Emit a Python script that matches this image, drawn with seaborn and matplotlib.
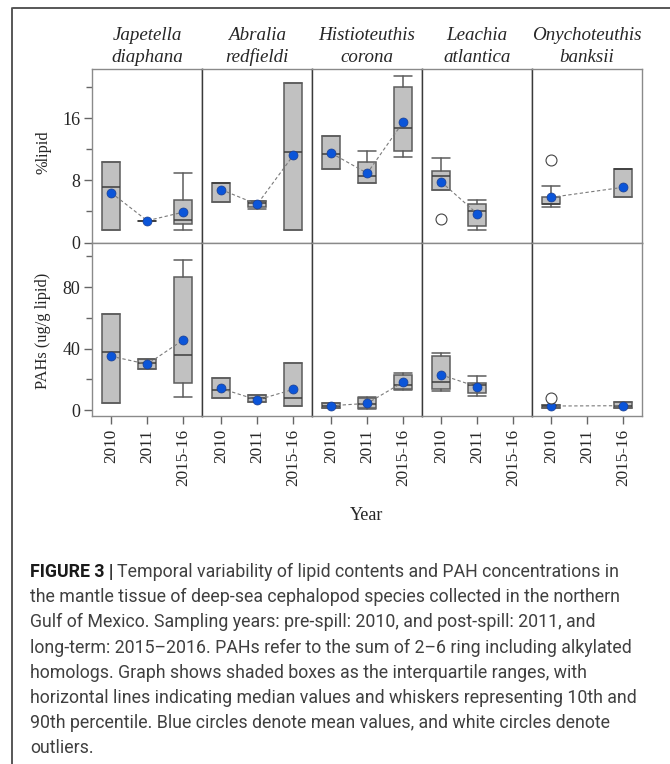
import numpy as np
import pandas as pd
import matplotlib
matplotlib.use("Agg")
import matplotlib.pyplot as plt
from matplotlib.lines import Line2D
import seaborn as sns

# ---------------------------------------------------------------- data
genus = ["Japetella", "Abralia", "Histioteuthis", "Leachia", "Onychoteuthis"]
epithet = ["diaphana", "redfieldi", "corona", "atlantica", "banksii"]
years = ["2010", "2011", "2015-16"]
nan = np.nan

# %lipid: 10th pct, Q1, median, Q3, 90th pct, mean (rows = species, cols = years)
lipid_p10 = [[1.6, 2.8, 1.6], [5.2, 4.3, 1.6], [9.4, 7.6, 11.0], [6.8, 1.6, nan], [4.6, nan, 5.9]]
lipid_q1 = [[1.6, 2.8, 2.4], [5.2, 4.5, 1.6], [9.4, 7.6, 11.7], [6.8, 2.1, nan], [4.9, nan, 5.9]]
lipid_med = [[7.1, 2.8, 2.9], [7.6, 5.1, 11.6], [11.4, 8.5, 14.7], [8.6, 4.0, nan], [5.0, nan, 9.4]]
lipid_q3 = [[10.4, 2.8, 5.5], [7.6, 5.3, 20.5], [13.7, 10.4, 20.0], [9.2, 4.9, nan], [5.9, nan, 9.4]]
lipid_p90 = [[10.4, 2.8, 8.9], [7.6, 5.3, 20.5], [13.7, 11.7, 21.4], [10.9, 5.5, nan], [7.3, nan, 9.4]]
lipid_mean = [[6.4, 2.8, 3.9], [6.8, 4.9, 11.2], [11.5, 8.9, 15.5], [7.8, 3.7, nan], [5.8, nan, 7.1]]
lipid_outlier = [[nan, nan, nan], [nan, nan, nan], [nan, nan, nan], [3.0, nan, nan], [10.6, nan, nan]]

# PAHs (ug/g lipid)
pah_p10 = [[4.3, 26.4, 8.2], [8.0, 5.2, 2.4], [1.5, 0.4, 13.0], [12.3, 9.3, nan], [1.3, nan, 1.5]]
pah_q1 = [[4.3, 26.4, 17.3], [8.0, 5.2, 2.4], [1.5, 1.5, 13.6], [13.4, 10.8, nan], [1.3, nan, 1.5]]
pah_med = [[38.0, 30.3, 36.1], [13.0, 7.6, 7.8], [2.8, 3.7, 16.2], [18.4, 16.2, nan], [2.5, nan, 2.8]]
pah_q3 = [[62.7, 32.9, 86.5], [21.0, 9.5, 30.3], [4.3, 7.6, 22.7], [35.0, 17.3, nan], [3.5, nan, 5.0]]
pah_p90 = [[62.7, 32.9, 97.7], [21.0, 9.5, 30.3], [4.3, 8.6, 23.8], [37.4, 22.3, nan], [3.5, nan, 5.0]]
pah_mean = [[35.0, 29.8, 45.6], [14.0, 6.5, 13.4], [2.8, 4.3, 18.2], [22.9, 15.1, nan], [2.6, nan, 2.8]]
pah_outlier = [[nan, nan, nan], [nan, nan, nan], [nan, nan, nan], [nan, nan, nan], [7.6, nan, nan]]

caption_lines = [
    "Temporal variability of lipid contents and PAH concentrations in",
    "the mantle tissue of deep-sea cephalopod species collected in the northern",
    "Gulf of Mexico. Sampling years: pre-spill: 2010, and post-spill: 2011, and",
    "long-term: 2015\u20132016. PAHs refer to the sum of 2\u20136 ring including alkylated",
    "homologs. Graph shows shaded boxes as the interquartile ranges, with",
    "horizontal lines indicating median values and whiskers representing 10th and",
    "90th percentile. Blue circles denote mean values, and white circles denote",
    "outliers.",
]
# typeset width (px) of caption lines 2-7
caption_widths = [602, 546, 615, 560, 603, 571]

rows = [
    dict(p10=lipid_p10, q1=lipid_q1, med=lipid_med, q3=lipid_q3, p90=lipid_p90,
         mean=lipid_mean, out=lipid_outlier, ylim=(0, 22.3),
         major=[0, 8, 16], minor=[4, 12, 20], label="%lipid", label_y=152),
    dict(p10=pah_p10, q1=pah_q1, med=pah_med, q3=pah_q3, p90=pah_p90,
         mean=pah_mean, out=pah_outlier, ylim=(-3.9, 109),
         major=[0, 40, 80], minor=[20, 60, 100], label="PAHs (ug/g lipid)", label_y=331),
]

# ---------------------------------------------------------------- style
sns.set_theme(style="ticks")
plt.rcParams["font.family"] = ["Liberation Serif", "DejaVu Serif"]

W, H = 670, 764
fig = plt.figure(figsize=(W / 100, H / 100), dpi=100)
fig.patch.set_facecolor("white")

gs = fig.add_gridspec(2, 5, left=92 / W, right=642 / W, top=1 - 69 / H,
                      bottom=1 - 416 / H, wspace=0, hspace=0)

BOX_FILL = "#c1c1c1"
BOX_EDGE = "#5c5c5c"
MEAN_BLUE = "#0b55d9"
OUTER = "#8a8a8a"
INNER = "#3a3a3a"
pos = np.arange(len(years))

for r, row in enumerate(rows):
    first = None
    for c in range(len(genus)):
        ax = fig.add_subplot(gs[r, c], sharey=first)
        if first is None:
            first = ax
        ax.set_facecolor("white")

        stats = []
        spos = []
        for k in range(len(years)):
            if np.isnan(row["med"][c][k]):
                continue
            stats.append(dict(whislo=row["p10"][c][k], q1=row["q1"][c][k],
                              med=row["med"][c][k], q3=row["q3"][c][k],
                              whishi=row["p90"][c][k], fliers=[]))
            spos.append(pos[k])
        ax.bxp(stats, positions=spos, widths=0.5, capwidths=0.5,
               patch_artist=True, showfliers=False, manage_ticks=False,
               boxprops=dict(facecolor=BOX_FILL, edgecolor=BOX_EDGE, linewidth=1.1),
               medianprops=dict(color="#3c3c3c", linewidth=1.1),
               whiskerprops=dict(color=BOX_EDGE, linewidth=1.1),
               capprops=dict(color=BOX_EDGE, linewidth=1.1))

        df = pd.DataFrame({"pos": pos, "mean": row["mean"][c],
                           "out": row["out"][c]})
        dm = df.dropna(subset=["mean"])
        sns.lineplot(data=dm, x="pos", y="mean", ax=ax, color="#7a7a7a",
                     linewidth=0.8, linestyle=(0, (3, 2.2)), zorder=3,
                     estimator=None, sort=True)
        sns.scatterplot(data=dm, x="pos", y="mean", ax=ax, color=MEAN_BLUE,
                        s=42, edgecolor="#1d3f8f", linewidth=0.5, zorder=5)
        do = df.dropna(subset=["out"])
        if len(do):
            sns.scatterplot(data=do, x="pos", y="out", ax=ax, facecolor="white",
                            s=62, edgecolor="#444444", linewidth=0.8, zorder=5)

        ax.set_xlim(-0.53, 2.52)
        ax.set_ylim(*row["ylim"])
        ax.set_xlabel("")
        ax.set_ylabel("")

        for side in ["top", "bottom", "left", "right"]:
            ax.spines[side].set_visible(True)
            ax.spines[side].set_linewidth(1.0)
            ax.spines[side].set_color(OUTER)
        if c > 0:
            ax.spines["left"].set_color(INNER)
        if c < len(genus) - 1:
            ax.spines["right"].set_color(INNER)

        ax.set_xticks(pos)
        if r == len(rows) - 1:
            ax.set_xticklabels(years, rotation=90, fontsize=12.3)
            ax.tick_params(axis="x", bottom=True, length=5.5, width=1,
                           color="#666666", pad=4)
        else:
            ax.tick_params(axis="x", bottom=False, labelbottom=False)

        if c == 0:
            ax.set_yticks(row["major"])
            ax.set_yticks(row["minor"], minor=True)
            ax.set_yticklabels([str(v) for v in row["major"]], fontsize=13)
            ax.tick_params(axis="y", which="major", left=True, length=5.5,
                           width=1, color="#666666", pad=3)
            ax.tick_params(axis="y", which="minor", left=True, length=4,
                           width=1, color="#666666")
        else:
            ax.tick_params(axis="y", which="both", left=False, labelleft=False)

        if r == 0:
            xc = (92 + 110 * c + 55) / W
            fig.text(xc, 1 - 39.5 / H, genus[c], ha="center", va="baseline",
                     style="italic", fontsize=13.7)
            fig.text(xc, 1 - 62.5 / H, epithet[c], ha="center", va="baseline",
                     style="italic", fontsize=13.7)

    fig.text(43 / W, 1 - row["label_y"] / H, row["label"], rotation=90,
             ha="center", va="center", fontsize=11.8)

fig.text(367 / W, 1 - 516 / H, "Year", ha="center", va="center", fontsize=13)

# page frame
fig.add_artist(Line2D([13 / W, 1], [1 - 8 / H, 1 - 8 / H], transform=fig.transFigure,
                      color="#4a4a4a", linewidth=1.3))
fig.add_artist(Line2D([12.5 / W, 12.5 / W], [1 - 8 / H, 0], transform=fig.transFigure,
                      color="#4a4a4a", linewidth=1.3))

# caption
cap_font = ["Roboto", "DejaVu Sans"]
cap_weight = "normal"
cap_color = "#404040"
renderer = fig.canvas.get_renderer()
ratios = []
for line, target in zip(caption_lines[1:7], caption_widths):
    probe = fig.text(0, 0, line, fontsize=12, family=cap_font, weight=cap_weight)
    ratios.append(target / probe.get_window_extent(renderer).width)
    probe.remove()
cap_size = 12 * float(np.mean(ratios))

x0 = 30 / W
base_first = 577
spacing = 25.2
head = fig.text(x0, 1 - base_first / H, "FIGURE 3 |", fontsize=cap_size, family=cap_font,
                weight="bold", color="#1a1a1a", va="baseline")
w_head = head.get_window_extent(renderer).width
for i, line in enumerate(caption_lines):
    x = x0 + ((w_head + cap_size * 0.3) / W if i == 0 else 0)
    fig.text(x, 1 - (base_first + spacing * i) / H, line, fontsize=cap_size,
             family=cap_font, weight=cap_weight, color=cap_color, va="baseline")

fig.savefig("out.png", dpi=100, facecolor="white")
